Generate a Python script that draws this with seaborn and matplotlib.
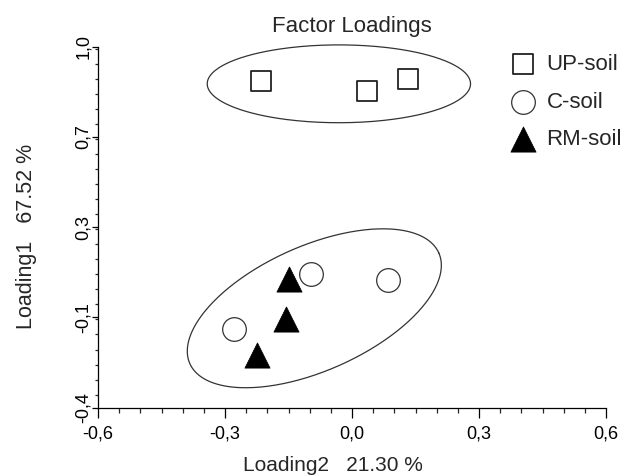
import numpy as np
import pandas as pd
import matplotlib
matplotlib.use("Agg")
import matplotlib.pyplot as plt
from matplotlib.ticker import FixedLocator, AutoMinorLocator, MultipleLocator
import seaborn as sns

# data
groups = ["UP-soil", "C-soil", "RM-soil"]
up_x = [-0.214, 0.035, 0.132]
up_y = [0.867, 0.829, 0.873]
c_x = [-0.096, 0.085, -0.278]
c_y = [0.118, 0.095, -0.097]
rm_x = [-0.148, -0.157, -0.224]
rm_y = [0.098, -0.057, -0.196]

# ellipses round the clusters: centre and the two half-axis vectors
upper_center = [-0.031, 0.856]
upper_axes = [[0.311, 0.0], [0.0, 0.151]]
lower_center = [-0.089, -0.015]
lower_axes = [[0.294, 0.215], [-0.060, 0.221]]

x_ticks = [-0.6, -0.3, 0.0, 0.3, 0.6]
y_ticks = [-0.4, -0.05, 0.3, 0.65, 1.0]
y_ticklabels = ["-0,4", "-0,1", "0,3", "0,7", "1,0"]

df = pd.DataFrame({
    "Loading2": up_x + c_x + rm_x,
    "Loading1": up_y + c_y + rm_y,
    "soil": [groups[0]] * len(up_x) + [groups[1]] * len(c_x) + [groups[2]] * len(rm_x),
})

sns.set_style("ticks")
plt.rcParams["font.family"] = ["Liberation Sans", "DejaVu Sans"]

fig = plt.figure(figsize=(6.25, 4.76), dpi=100)
ax = fig.add_axes([0.1568, 0.1439, 0.8128, 0.758])

styles = {
    "UP-soil": dict(marker="s", s=190, facecolor="white", edgecolor="#222222", linewidth=1.3),
    "C-soil": dict(marker="o", s=290, facecolor="white", edgecolor="#333333", linewidth=0.9),
    "RM-soil": dict(marker="^", s=330, facecolor="black", edgecolor="black", linewidth=0.5),
}
for g in groups:
    sub = df[df["soil"] == g]
    sns.scatterplot(data=sub, x="Loading2", y="Loading1", ax=ax, label=g,
                    zorder=3, clip_on=False, **styles[g])

t = np.linspace(0, 2 * np.pi, 300)
for c, (u, v) in [(upper_center, upper_axes), (lower_center, lower_axes)]:
    ex = c[0] + u[0] * np.cos(t) + v[0] * np.sin(t)
    ey = c[1] + u[1] * np.cos(t) + v[1] * np.sin(t)
    ax.plot(ex, ey, color="#333333", lw=0.9, clip_on=False, zorder=2)

ax.set_xlim(-0.6, 0.6)
ax.set_ylim(-0.4, 1.0)
ax.xaxis.set_major_locator(FixedLocator(x_ticks))
ax.xaxis.set_minor_locator(AutoMinorLocator(6))
ax.set_xticklabels([f"{v:.1f}".replace(".", ",") for v in x_ticks])
ax.yaxis.set_major_locator(FixedLocator(y_ticks))
ax.yaxis.set_minor_locator(MultipleLocator(0.35 / 6))
ax.set_yticklabels(y_ticklabels)
plt.setp(ax.get_yticklabels(), rotation=90, va="center")

ax.tick_params(axis="x", which="major", length=7, width=0.9, pad=6, labelsize=13, colors="black")
ax.tick_params(axis="x", which="minor", length=3.5, width=0.9)
ax.tick_params(axis="y", which="major", length=4.5, width=0.9, pad=0, labelsize=13, colors="black")
ax.tick_params(axis="y", which="minor", length=2.5, width=0.9)
sns.despine(ax=ax)
for sp in ["left", "bottom"]:
    ax.spines[sp].set_linewidth(0.9)
    ax.spines[sp].set_color("black")

ax.set_xlabel("Loading2   21.30 %", fontsize=15, va="center")
ax.xaxis.set_label_coords(0.4626, -0.162)
ax.set_ylabel("Loading1   67.52 %", fontsize=15.5, va="center", ha="center")
ax.yaxis.set_label_coords(-0.141, 0.475)
ax.set_title("Factor Loadings", fontsize=16, pad=10.5)

leg = ax.legend(loc="upper left", bbox_to_anchor=(0.804, 0.98), frameon=False,
                fontsize=16, handlelength=1.5, handletextpad=0.3, labelspacing=0.75,
                borderaxespad=0, borderpad=0, markerscale=1.0)

fig.savefig("out.png", dpi=100)
